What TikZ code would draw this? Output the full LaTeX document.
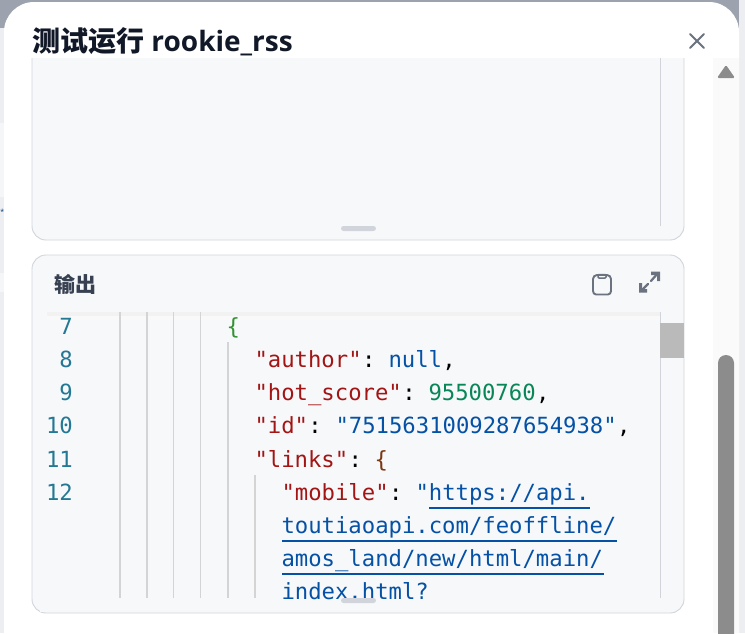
\documentclass[tikz,border=0pt]{standalone}
\usepackage{fontspec}
\setmainfont{Open Sans}
\setmonofont{DejaVu Sans Mono}
\newfontfamily\cjkfont{Noto Sans CJK SC}
\definecolor{panelbg}{HTML}{F7F8FA}
\definecolor{panelline}{HTML}{D1D5DB}
\definecolor{guideline}{HTML}{D4D4D4}
\definecolor{backgrey}{HTML}{9CA3AF}
\definecolor{backlight}{HTML}{ECEEF2}
\definecolor{backpale}{HTML}{F5F6F8}
\definecolor{titlecol}{HTML}{111827}
\definecolor{headcol}{HTML}{374151}
\definecolor{iconcol}{HTML}{6B7280}
\definecolor{linenocol}{HTML}{237893}
\definecolor{keycol}{HTML}{A31515}
\definecolor{strcol}{HTML}{0451A5}
\definecolor{numcol}{HTML}{098658}
\definecolor{bracegreen}{HTML}{319331}
\definecolor{bracebrown}{HTML}{7B3814}
\tikzset{
	codetext/.style={anchor=base west, inner sep=0, font=\ttfamily\fontsize{22.25}{22.25}\selectfont},
	lineno/.style={anchor=base east, inner sep=0, text=linenocol, font=\ttfamily\fontsize{22.25}{22.25}\selectfont},
	guide/.style={guideline, line width=1.3},
	panel/.style={fill=panelbg, draw=panelline, line width=0.9, rounded corners=14},
	urlline/.style={strcol, line width=2},
	iconline/.style={iconcol, line width=1.9, line cap=round, line join=round},
	handle/.style={fill=panelline, rounded corners=2.5},
}
\begin{document}
\begin{tikzpicture}[x=1pt, y=-1pt]
	\useasboundingbox (0, 0) rectangle (745, 633);
	% page behind the dialog
	\fill[backlight] (0, 0) rectangle (745, 633);
	\fill[backgrey] (0, 0) rectangle (739, 28);
	\fill[backpale] (0, 123) rectangle (4, 197);
	\fill[backpale] (0, 273) rectangle (4, 292);
	% dialog
	\fill[white, rounded corners=30] (4, 2) -- (739, 2) -- (739, 680) -- (4, 680) -- cycle;
	\node[inner sep=0, text=strcol!70!black, font=\fontsize{7}{7}\selectfont] (star) at (2.200, 212) {*};

	% scrollbar of the dialog
	\fill[black!2] (713, 58) rectangle (739, 633);
	\fill[black!45, rounded corners=1.5] (726, 65) -- (735, 78) -- (717, 78) -- cycle;
	\fill[black!45, rounded corners=8] (718, 355) rectangle (734, 680);

	% upper panel
	\draw[panel] (32, 30) rectangle (684, 240);
	\draw[panelline, line width=1] (660, 58) -- (660, 226);
	\fill[handle] (341, 226) rectangle (376, 231);
	\fill[white] (20, 20) rectangle (712, 58);

	% title
	\node[anchor=base west, inner sep=0, text=titlecol, font=\fontsize{28}{28}\selectfont\bfseries] (title) at (32, 51) {{\cjkfont 测试运行} rookie\_rss};
	\draw[iconline, line width=2] (690, 34) -- (704, 48) (704, 34) -- (690, 48);

	% lower panel
	\draw[panel] (32, 255) rectangle (684, 613);
	\node[anchor=base west, inner sep=0, text=headcol, font=\cjkfont\bfseries\fontsize{21}{21}\selectfont] (output) at (54, 292) {输出};
	\fill[black!5] (47, 312) rectangle (660, 316);
	\fill[black!2.5] (47, 316) rectangle (660, 320);
	\draw[iconline] (597, 275) -- (607, 275) to[out=0, in=90] (611, 279) -- (611, 291) to[out=-90, in=0] (608, 294.500) -- (596, 294.500) to[out=180, in=-90] (593, 291) -- (593, 279) to[out=90, in=180] (597, 275) -- cycle;
	\draw[iconline, line width=1.5, rounded corners=1] (598, 274.500) rectangle (606, 278);
	\draw[iconline, line width=2.2] (641, 291) -- (648, 284);
	\draw[iconline, line width=2.2] (651, 281) -- (658, 273);
	\fill[iconcol] (639, 283) -- (642, 283) -- (642, 289) -- (647, 289) -- (647, 292.500) -- (639, 292.500) -- cycle;
	\fill[iconcol] (651, 271.500) -- (660, 271.500) -- (660, 281) -- (657, 281) -- (657, 275) -- (651, 275) -- cycle;

	% code guides
	\foreach \x in {120, 147, 173.500, 200.500}
		\draw[guide] (\x, 312) -- (\x, 598);
	\draw[guide] (228, 342) -- (228, 598);
	\draw[guide] (255, 475) -- (255, 598);
	\draw[panelline, line width=1] (660, 312) -- (660, 598);
	\fill[black!27] (660, 323) rectangle (684, 358);

	% line numbers
	\node[lineno] (no7) at (73, 334) {7};
	\node[lineno] (no8) at (73, 367) {8};
	\node[lineno] (no9) at (73, 400) {9};
	\node[lineno] (no10) at (73, 433) {10};
	\node[lineno] (no11) at (73, 467) {11};
	\node[lineno] (no12) at (73, 500) {12};

	% code
	\node[codetext, text=bracegreen] (brace) at (226.500, 334) {\{};
	\node[codetext, text=keycol] (author) at (254.300, 367) {"author"};
	\node[codetext, text=black] at (author.base east) [anchor=base west] (authorsep) {:};
	\node[codetext, text=strcol] at (388.300, 367) (nullval) {null};
	\node[codetext, text=black] at (nullval.base east) [anchor=base west] (nullsep) {,};
	\node[codetext, text=keycol] (score) at (254.300, 400) {"hot\_score"};
	\node[codetext, text=black] at (score.base east) [anchor=base west] (scoresep) {:};
	\node[codetext, text=numcol] (scoreval) at (428.300, 400) {95500760};
	\node[codetext, text=black] at (scoreval.base east) [anchor=base west] (scoreend) {,};
	\node[codetext, text=keycol] (id) at (254.300, 433) {"id"};
	\node[codetext, text=black] at (id.base east) [anchor=base west] (idsep) {:};
	\node[codetext, text=strcol] (idval) at (335.300, 433) {"7515631009287654938"};
	\node[codetext, text=black] at (idval.base east) [anchor=base west] (idend) {,};
	\node[codetext, text=keycol] (links) at (254.300, 467) {"links"};
	\node[codetext, text=black] at (links.base east) [anchor=base west] (linkssep) {:};
	\node[codetext, text=bracebrown] (linksval) at (374.300, 467) {\{};
	\node[codetext, text=keycol] (mobile) at (281.300, 500) {"mobile"};
	\node[codetext, text=black] at (mobile.base east) [anchor=base west] (mobilesep) {:};
	\node[codetext, text=strcol] (urla) at (415.300, 500) {"https://api.};
	\node[codetext, text=strcol] (urlb) at (281.300, 533) {toutiaoapi.com/feoffline/};
	\node[codetext, text=strcol] (urlc) at (281.300, 566) {amos\_land/new/html/main/};
	\node[codetext, text=strcol] (urld) at (281.300, 599) {index.html?};

	% url underlines
	\draw[urlline] (429, 508) -- (590, 508);
	\draw[urlline] (282, 541) -- (617, 541);
	\draw[urlline] (282, 574) -- (604, 574);

	% cover for the foot of the code
	\fill[panelbg] (40, 600.500) rectangle (655, 612);
	\fill[handle] (341, 598) rectangle (376, 603);
\end{tikzpicture}
\end{document}
